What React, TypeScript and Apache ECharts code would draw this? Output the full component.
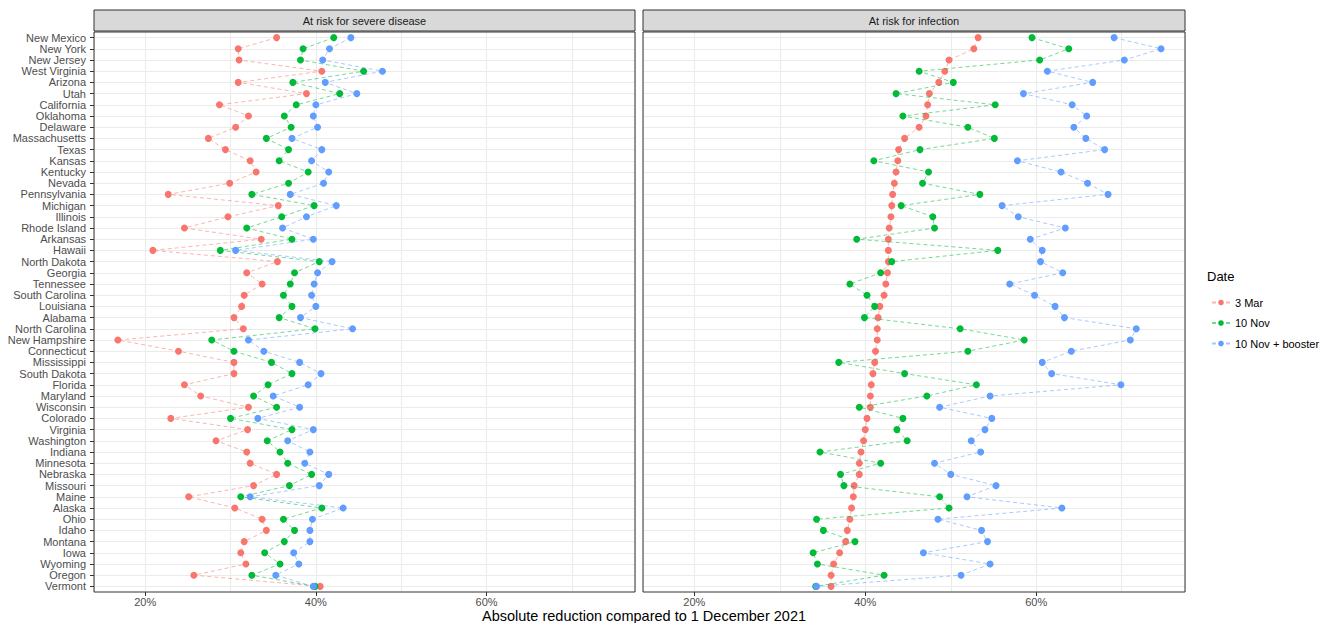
import React, { useEffect, useRef } from 'react';
import * as echarts from 'echarts';

const states = [
  'New Mexico', 'New York', 'New Jersey', 'West Virginia', 'Arizona', 'Utah', 'California', 'Oklahoma',
  'Delaware', 'Massachusetts', 'Texas', 'Kansas', 'Kentucky', 'Nevada', 'Pennsylvania', 'Michigan',
  'Illinois', 'Rhode Island', 'Arkansas', 'Hawaii', 'North Dakota', 'Georgia', 'Tennessee', 'South Carolina',
  'Louisiana', 'Alabama', 'North Carolina', 'New Hampshire', 'Connecticut', 'Mississippi', 'South Dakota',
  'Florida', 'Maryland', 'Wisconsin', 'Colorado', 'Virginia', 'Washington', 'Indiana', 'Minnesota',
  'Nebraska', 'Missouri', 'Maine', 'Alaska', 'Ohio', 'Idaho', 'Montana', 'Iowa', 'Wyoming', 'Oregon', 'Vermont',
];

const panels = ['At risk for severe disease', 'At risk for infection'];
const dates = ['3 Mar', '10 Nov', '10 Nov + booster'];

const severeMar = [35.4, 30.9, 31.0, 40.7, 30.9, 38.9, 28.7, 32.1, 30.6, 27.4, 29.4, 32.3, 33.0, 29.9, 22.7, 35.6, 29.7, 24.6, 33.6, 20.9, 35.5, 31.9, 33.7, 31.6, 31.3, 30.4, 31.5, 16.8, 23.9, 30.4, 30.4, 24.6, 26.5, 32.1, 23.0, 32.0, 28.3, 31.9, 32.3, 35.4, 32.7, 25.1, 30.5, 33.7, 34.2, 31.6, 31.2, 31.8, 25.7, 40.5];
const severeNov = [42.1, 38.5, 38.2, 45.6, 37.3, 42.8, 37.7, 36.3, 37.1, 34.2, 36.8, 35.7, 39.1, 36.8, 32.5, 39.8, 36.0, 31.9, 37.2, 28.8, 40.4, 37.5, 37.0, 36.2, 37.2, 35.7, 39.9, 27.8, 30.4, 34.8, 37.2, 34.4, 32.7, 35.4, 30.0, 37.2, 34.3, 35.8, 36.7, 39.5, 36.9, 31.2, 40.7, 36.2, 37.5, 36.3, 34.0, 35.8, 32.5, 39.9];
const severeBooster = [44.1, 41.6, 40.8, 47.8, 41.1, 44.8, 40.0, 39.7, 40.2, 37.2, 40.7, 39.5, 41.5, 40.9, 37.0, 42.4, 38.9, 36.1, 39.7, 30.6, 41.9, 40.2, 39.8, 39.5, 40.0, 38.2, 44.3, 32.1, 33.9, 38.1, 40.6, 39.1, 35.0, 38.1, 33.2, 39.7, 36.7, 39.3, 38.7, 41.5, 40.4, 32.3, 43.2, 39.6, 39.3, 39.3, 37.4, 38.0, 35.3, 39.7];

const infectionMar = [53.2, 52.7, 49.8, 49.3, 48.6, 47.5, 47.3, 47.1, 46.3, 44.6, 43.9, 43.8, 43.6, 43.4, 43.2, 43.1, 43.0, 42.8, 42.7, 42.7, 42.7, 42.6, 42.4, 42.2, 41.7, 41.5, 41.4, 41.4, 41.2, 41.1, 40.9, 40.7, 40.6, 40.6, 40.2, 40.0, 39.8, 39.5, 39.3, 39.3, 38.7, 38.6, 38.4, 38.2, 37.9, 37.7, 37.0, 36.3, 36.0, 36.0];
const infectionNov = [59.5, 63.8, 60.4, 46.3, 50.3, 43.6, 55.2, 44.4, 52.0, 55.1, 46.4, 41.0, 47.4, 46.7, 53.4, 44.2, 47.9, 48.1, 39.0, 55.5, 43.1, 41.8, 38.2, 40.2, 41.1, 39.9, 51.1, 58.6, 52.0, 36.9, 44.6, 53.0, 47.2, 39.3, 44.4, 43.7, 44.9, 34.7, 41.8, 37.1, 37.5, 48.7, 49.8, 34.3, 35.1, 38.8, 33.9, 34.4, 42.2, 34.2];
const infectionBooster = [69.1, 74.6, 70.3, 61.3, 66.6, 58.5, 64.2, 65.9, 64.4, 65.8, 68.0, 57.8, 62.9, 66.0, 68.4, 56.0, 57.9, 63.4, 59.3, 60.7, 60.5, 63.1, 56.9, 59.8, 62.2, 63.3, 71.7, 71.0, 64.1, 60.7, 61.8, 69.9, 54.6, 48.7, 54.8, 54.0, 52.4, 53.5, 48.1, 50.0, 55.3, 51.9, 63.0, 48.5, 53.6, 54.3, 46.8, 54.6, 51.2, 34.3];

const xTickValues = [20, 40, 60];
const xMin = 14;
const xMax = 77.4;

const colors = ['#F8766D', '#00BA38', '#619CFF'];
const FONT = '"Liberation Sans", Arial, Helvetica, sans-serif';

const panelData = [
  [severeMar, severeNov, severeBooster],
  [infectionMar, infectionNov, infectionBooster],
];

const gridBoxes = [
  { left: 94, top: 32, width: 541, height: 560 },
  { left: 643, top: 32, width: 542, height: 560 },
];

function buildOption() {
  const xAxis: any[] = [];
  const yAxis: any[] = [];
  const series: any[] = [];
  const graphic: any[] = [];

  gridBoxes.forEach((g, p) => {
    xAxis.push({
      type: 'value', gridIndex: p, min: xMin, max: xMax, position: 'bottom',
      axisLine: { show: false }, axisTick: { show: false }, axisLabel: { show: false },
      splitLine: { show: true, lineStyle: { color: '#EBEBEB', width: 1 } },
    });
    xAxis.push({
      type: 'value', gridIndex: p, min: xMin, max: xMax, position: 'bottom',
      axisLine: { show: false },
      axisTick: { show: true, customValues: xTickValues, length: 4, lineStyle: { color: '#333333' } },
      axisLabel: {
        customValues: xTickValues,
        formatter: (v: number) => `${v}%`,
        color: '#4D4D4D', fontSize: 11, margin: 4, fontFamily: FONT,
      },
      splitLine: { show: false },
    });
    yAxis.push({
      type: 'category', gridIndex: p, data: states, inverse: true,
      axisLine: { show: false },
      axisTick: { show: p === 0, alignWithLabel: true, interval: 0, length: 4, lineStyle: { color: '#333333' } },
      axisLabel: { show: p === 0, interval: 0, color: '#4D4D4D', fontSize: 11, margin: 8, fontFamily: FONT },
      splitLine: { show: true, alignWithLabel: true, interval: 0, lineStyle: { color: '#EBEBEB', width: 1 } },
    });

    panelData[p].forEach((vals, k) => {
      series.push({
        type: 'line', name: dates[k], xAxisIndex: p * 2, yAxisIndex: p,
        data: vals.map((v, i) => [v, states[i]]),
        symbol: 'circle', symbolSize: 7, showSymbol: true,
        itemStyle: { color: colors[k] },
        lineStyle: { color: colors[k], width: 1, type: [4, 3], opacity: 0.55 },
        emphasis: { disabled: true },
        z: 2 + k,
      });
    });

    graphic.push({
      type: 'rect', z: 100,
      shape: { x: g.left, y: 10, width: g.width, height: 21 },
      style: { fill: '#D9D9D9', stroke: '#333333', lineWidth: 1 },
    });
    graphic.push({
      type: 'text', z: 101,
      style: {
        text: panels[p], x: g.left + g.width / 2, y: 21, textAlign: 'center', textVerticalAlign: 'middle',
        fontSize: 11, fill: '#1A1A1A', fontFamily: FONT,
      },
    });
    graphic.push({
      type: 'rect', z: 100,
      shape: { x: g.left, y: g.top, width: g.width, height: g.height },
      style: { fill: 'none', stroke: '#333333', lineWidth: 1 },
    });
  });

  graphic.push({
    type: 'text', z: 101,
    style: {
      text: 'Absolute reduction compared to 1 December 2021', x: 644, y: 616,
      textAlign: 'center', textVerticalAlign: 'middle', fontSize: 14.5, fill: '#000000', fontFamily: FONT,
    },
  });
  graphic.push({
    type: 'text', z: 101,
    style: {
      text: 'Date', x: 1207, y: 276, textAlign: 'left', textVerticalAlign: 'middle',
      fontSize: 13, fill: '#000000', fontFamily: FONT,
    },
  });

  return {
    animation: false,
    backgroundColor: '#ffffff',
    textStyle: { fontFamily: FONT },
    grid: gridBoxes.map((g) => ({ ...g, containLabel: false })),
    xAxis,
    yAxis,
    series,
    legend: {
      data: dates, orient: 'vertical', left: 1206, top: 292,
      itemWidth: 18, itemHeight: 7, itemGap: 9.5,
      textStyle: { fontSize: 11, color: '#000000', fontFamily: FONT },
    },
    graphic,
  };
}

export default function App() {
  const ref = useRef<HTMLDivElement>(null);
  useEffect(() => {
    if (!ref.current) return;
    const chart = echarts.init(ref.current, null, { renderer: 'svg' });
    chart.setOption(buildOption() as any);
    return () => chart.dispose();
  }, []);
  return <div ref={ref} style={{ position: 'fixed', left: 0, top: 0, width: 1333, height: 623 }} />;
}
